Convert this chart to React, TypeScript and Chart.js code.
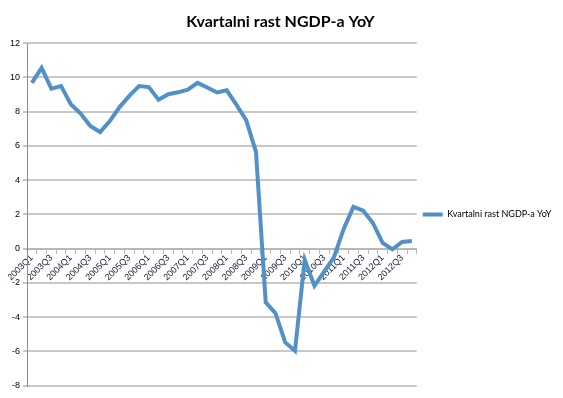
import React, { useEffect, useRef } from "react";
import { Chart, registerables } from "chart.js";

Chart.register(...registerables);

const titleText = "Kvartalni rast NGDP-a YoY";
const seriesName = "Kvartalni rast NGDP-a YoY";

const quarters: string[] = [
  "2003Q1", "2003Q2", "2003Q3", "2003Q4",
  "2004Q1", "2004Q2", "2004Q3", "2004Q4",
  "2005Q1", "2005Q2", "2005Q3", "2005Q4",
  "2006Q1", "2006Q2", "2006Q3", "2006Q4",
  "2007Q1", "2007Q2", "2007Q3", "2007Q4",
  "2008Q1", "2008Q2", "2008Q3", "2008Q4",
  "2009Q1", "2009Q2", "2009Q3", "2009Q4",
  "2010Q1", "2010Q2", "2010Q3", "2010Q4",
  "2011Q1", "2011Q2", "2011Q3", "2011Q4",
  "2012Q1", "2012Q2", "2012Q3", "2012Q4",
];

const growth: number[] = [
  9.68, 10.56, 9.35, 9.5,
  8.43, 7.89, 7.16, 6.81,
  7.45, 8.27, 8.92, 9.5,
  9.44, 8.7, 9.02, 9.13,
  9.29, 9.68, 9.41, 9.12,
  9.25, 8.4, 7.5, 5.65,
  -3.14, -3.77, -5.48, -5.97,
  -0.66, -2.17, -1.35, -0.51,
  1.15, 2.44, 2.22, 1.5,
  0.33, -0.04, 0.39, 0.45,
];

const yMin = -8;
const yMax = 12;
const yStep = 2;

export default function App() {
  const canvasRef = useRef<HTMLCanvasElement | null>(null);

  useEffect(() => {
    if (!canvasRef.current) return;
    let alive = true;
    const chart = new Chart(canvasRef.current, {
      type: "line",
      data: {
        labels: quarters,
        datasets: [
          {
            label: seriesName,
            data: growth,
            borderColor: "#5290c8",
            backgroundColor: "#5290c8",
            borderWidth: 4,
            pointRadius: 0,
            tension: 0,
            fill: false,
          },
        ],
      },
      options: {
        responsive: true,
        maintainAspectRatio: false,
        animation: false,
        layout: { padding: { left: 0, right: 2, top: 0, bottom: 0 } },
        plugins: {
          title: {
            display: true,
            text: titleText,
            color: "#000",
            font: { family: "Lato", size: 16, weight: "bold" },
            padding: { top: 4, bottom: 12 },
          },
          legend: {
            position: "right",
            fullSize: false,
            labels: {
              usePointStyle: true,
              pointStyleWidth: 20,
              pointStyle: "line",
              color: "#000",
              font: { family: "Lato", size: 9 },
              padding: 6,
            },
          },
          tooltip: { enabled: false },
        },
        scales: {
          x: {
            position: { y: 0 },
            offset: true,
            grid: {
              display: true,
              drawOnChartArea: false,
              drawTicks: true,
              tickLength: 4,
              offset: true,
              color: "#b8b8b8",
              lineWidth: 1,
            },
            border: { display: true, color: "#b8b8b8", width: 2 },
            ticks: {
              autoSkip: false,
              maxRotation: 45,
              minRotation: 45,
              padding: 0,
              color: "#1a1a3a",
              font: { family: "Liberation Sans", size: 9 },
              callback: (_v: any, i: number) => (i % 2 === 0 ? quarters[i] : ""),
            },
          },
          y: {
            min: yMin,
            max: yMax,
            afterFit: (scale: any) => {
              scale.width = 19;
            },
            ticks: {
              stepSize: yStep,
              color: "#000",
              padding: 3,
              font: { family: "Liberation Sans", size: 9 },
            },
            grid: {
              color: "#c8c8c8",
              lineWidth: 2,
              tickLength: 4,
            },
            border: { display: true, color: "#8c8c8c", width: 1 },
          },
        },
      },
    });
    const fonts: any = (document as any).fonts;
    if (fonts && fonts.load) {
      Promise.all([fonts.load("9px Lato"), fonts.load("bold 16px Lato")])
        .catch(() => null)
        .then(() => {
          if (alive) chart.update();
        });
    }
    return () => {
      alive = false;
      chart.destroy();
    };
  }, []);

  return (
    <div style={{ width: 547, height: 386, position: "relative" }}>
      <canvas ref={canvasRef} />
    </div>
  );
}
